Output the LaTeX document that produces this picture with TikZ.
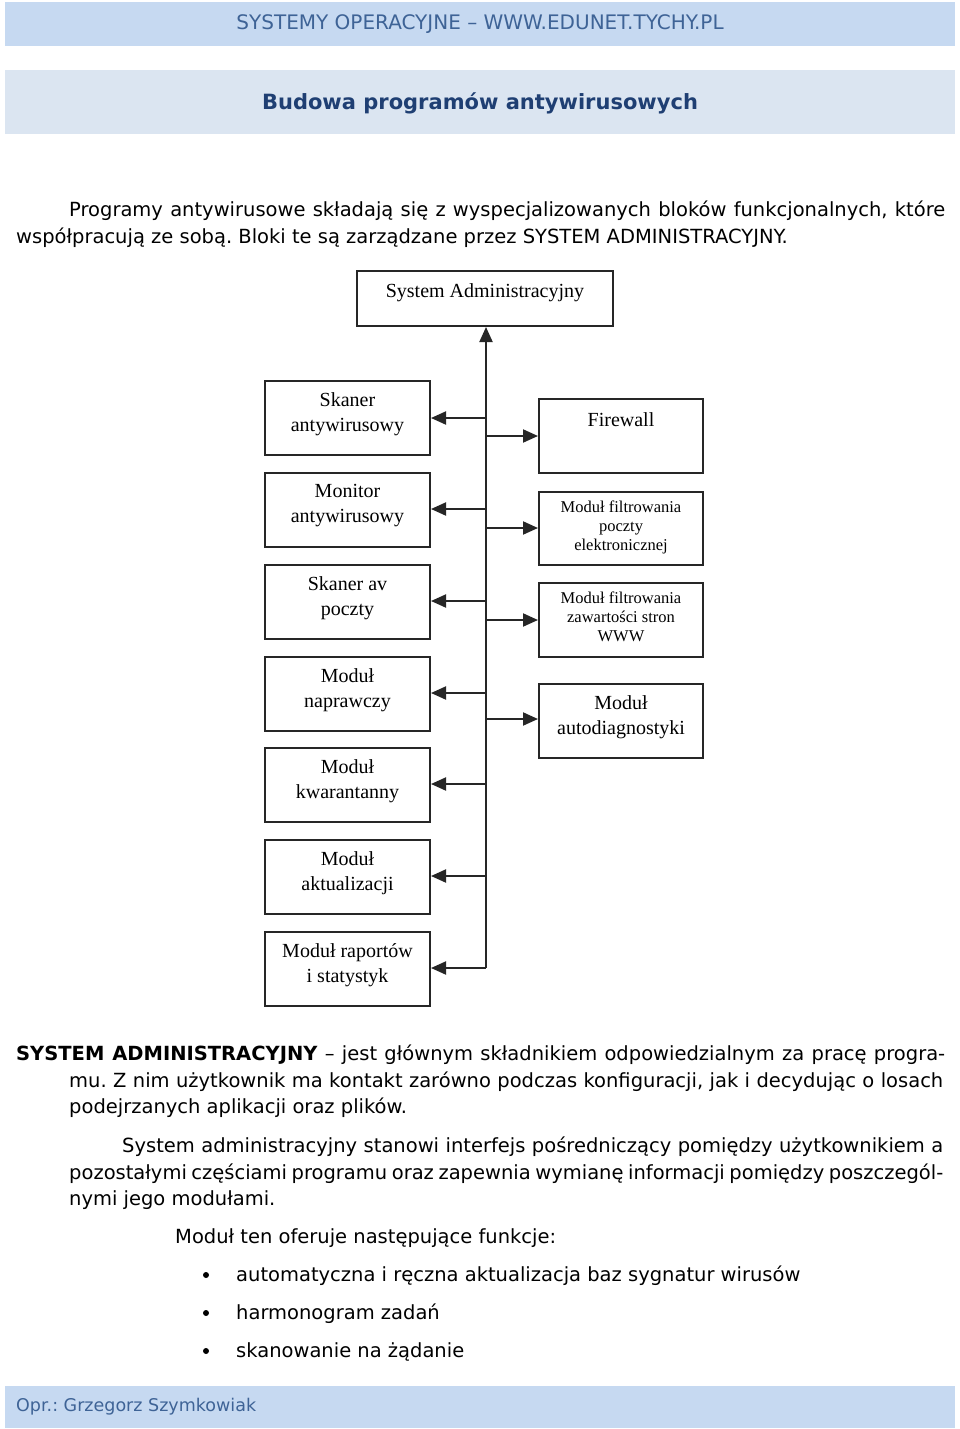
\documentclass[tikz,border=0pt]{standalone}
\usepackage{fontspec}
\setmainfont{DejaVu Sans}
\newfontfamily\diagfont{Liberation Serif}
\usetikzlibrary{arrows.meta}
\frenchspacing
\definecolor{bandA}{HTML}{C6D9F1}
\definecolor{bandB}{HTML}{DBE5F1}
\definecolor{headblue}{HTML}{3E6396}
\definecolor{titleblue}{HTML}{1F3F73}
\definecolor{boxline}{HTML}{262626}
\tikzset{
  box/.style={draw=boxline, line width=2pt, inner sep=0pt},
  btext/.style={anchor=north, inner sep=0pt, align=center, font=\diagfont\fontsize{20}{25}\selectfont},
  bsmall/.style={anchor=north, inner sep=0pt, align=center, font=\diagfont\fontsize{16.5}{19}\selectfont},
  conn/.style={draw=boxline, line width=2pt},
  arr/.style={conn, -{Triangle[length=15pt,width=13pt]}},
  body/.style={anchor=base west, inner sep=0pt, font=\frenchspacing\fontsize{19.5}{22}\selectfont},
}
\begin{document}
\begin{tikzpicture}[x=1pt,y=-1pt]
\useasboundingbox (0,0) rectangle (960,1429);
\fill[white] (0,0) rectangle (960,1429);
% header band
\fill[bandA] (5,2) rectangle (955,46);
\node[inner sep=0pt, text=headblue, font=\fontsize{20}{22}\selectfont] (hdr) at (480,24) {SYSTEMY OPERACYJNE – WWW.EDUNET.TYCHY.PL};
% title band
\fill[bandB] (5,70) rectangle (955,134);
\node[inner sep=0pt, text=titleblue, font=\bfseries\fontsize{21}{24}\selectfont] (ttl) at (480,103) {Budowa programów antywirusowych};
% paragraph 1
\node[body] (p1a) at (69,216) {\makebox[876pt][s]{Programy antywirusowe składają się z wyspecjalizowanych bloków funkcjonalnych, które}};
\node[body] (p1b) at (16,243) {współpracują ze sobą. Bloki te są zarządzane przez SYSTEM ADMINISTRACYJNY.};

% diagram boxes
\node[box, minimum width=256pt, minimum height=55pt] (sa) at (485,298.5) {};
\node[btext] (sat) at ([yshift=-13pt]sa.north) {System Administracyjny};

\foreach \nm/\top/\txt in {l1/380/{Skaner\\antywirusowy}, l2/472/{Monitor\\antywirusowy}, l3/564/{Skaner av\\poczty}, l4/656/{Moduł\\naprawczy}, l5/747/{Moduł\\kwarantanny}, l6/839/{Moduł\\aktualizacji}, l7/931/{Moduł raportów\\i statystyk}}{
  \node[box, minimum width=165pt, minimum height=74pt, anchor=north] (\nm) at (347.5,\top) {};
  \node[btext] (\nm t) at ([yshift=-12pt]\nm.north) {\txt};
}
\node[box, minimum width=164pt, minimum height=74pt, anchor=north] (r1) at (621,398) {};
\node[btext] (r1t) at ([yshift=-14pt]r1.north) {Firewall};
\node[box, minimum width=164pt, minimum height=73pt, anchor=north] (r2) at (621,491) {};
\node[bsmall] (r2t) at ([yshift=-10pt]r2.north) {Moduł filtrowania\\poczty\\elektronicznej};
\node[box, minimum width=164pt, minimum height=74pt, anchor=north] (r3) at (621,582) {};
\node[bsmall] (r3t) at ([yshift=-10pt]r3.north) {Moduł filtrowania\\zawartości stron\\WWW};
\node[box, minimum width=164pt, minimum height=74pt, anchor=north] (r4) at (621,683) {};
\node[btext] (r4t) at ([yshift=-12pt]r4.north) {Moduł\\autodiagnostyki};

% connectors
\coordinate (trunkbot) at (486,968);
\draw[arr] (trunkbot) -- (trunkbot |- sa.south);
\foreach \nm/\yy in {l1/418, l2/509, l3/601, l4/693, l5/784, l6/876, l7/968}{
  \coordinate (b\nm) at (486,\yy);
  \draw[arr] (b\nm) -- (\nm.east |- b\nm);
}
\foreach \nm/\yy in {r1/436, r2/528, r3/620, r4/719}{
  \coordinate (b\nm) at (486,\yy);
  \draw[arr] (b\nm) -- (\nm.west |- b\nm);
}

% paragraph 2
\node[body] (p2a) at (16,1060) {\makebox[929pt][s]{\textbf{SYSTEM ADMINISTRACYJNY} – jest głównym składnikiem odpowiedzialnym za pracę progra-}};
\node[body] (p2b) at (69,1087) {\makebox[874pt][s]{mu. Z nim użytkownik ma kontakt zarówno podczas konfiguracji, jak i decydując o losach}};
\node[body] (p2c) at (69,1113) {podejrzanych aplikacji oraz plików.};
\node[body] (p3a) at (122,1152) {\makebox[821pt][s]{System administracyjny stanowi interfejs pośredniczący pomiędzy użytkownikiem a}};
\node[body] (p3b) at (69,1179) {\makebox[874pt][s]{pozostałymi częściami programu oraz zapewnia wymianę informacji pomiędzy poszczegól-}};
\node[body] (p3c) at (69,1205) {nymi jego modułami.};
\node[body] (p4) at (175,1243) {Moduł ten oferuje następujące funkcje:};
\foreach \i/\yy/\txt in {1/1281/{automatyczna i ręczna aktualizacja baz sygnatur wirusów}, 2/1319/{harmonogram zadań}, 3/1357/{skanowanie na żądanie}}{
  \fill (206,\yy-6) circle (3pt);
  \node[body] (li\i) at (236,\yy) {\txt};
}
% footer
\fill[bandA] (5,1386) rectangle (955,1428);
\node[anchor=west, inner sep=0pt, text=headblue, font=\fontsize{17.5}{20}\selectfont] (ftr) at (16,1407) {Opr.: Grzegorz Szymkowiak};
\end{tikzpicture}
\end{document}
